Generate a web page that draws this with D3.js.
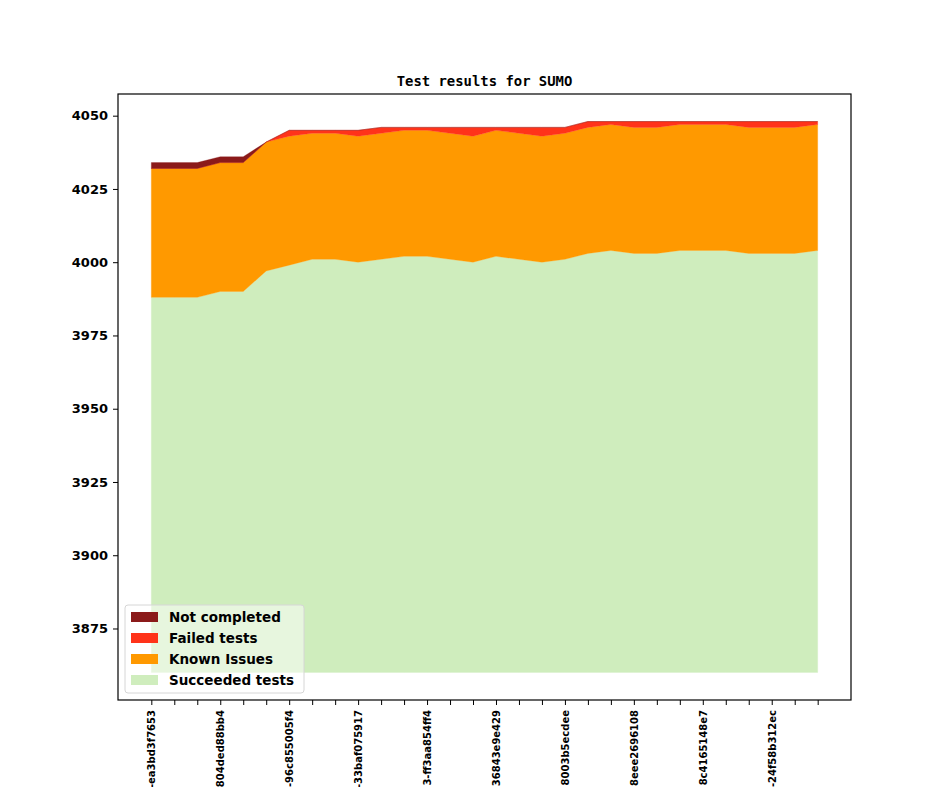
<!DOCTYPE html>
<html>
<head>
<meta charset="utf-8">
<script src="https://cdn.jsdelivr.net/npm/d3@7"></script>
<style>
  html, body { margin: 0; padding: 0; background: #fff; overflow: hidden; }
  svg { display: block; }
</style>
</head>
<body>
<svg id="chart" width="944" height="787"></svg>
<script>
// ---- data ----
const commitLabels = ["-ea3bd3f7653", "804ded88bb4", "-96c855005f4", "-33baf075917", "3-ff3aa854ff4",
                      "36843e9e429", "8003b5ecdee", "8eee2696108", "8c4165148e7", "-24f58b312ec"];
const labelEvery = 3;
const commitIndex = d3.range(30);
const yFloor = 3860;
const succeeded   = [3988,3988,3988,3990,3990,3997,3999,4001,4001,4000,4001,4002,4002,4001,4000,
                     4002,4001,4000,4001,4003,4004,4003,4003,4004,4004,4004,4003,4003,4003,4004];
const knownIssues = [44,44,44,44,44,44,44,43,43,43,43,43,43,43,43,
                     43,43,43,43,43,43,43,43,43,43,43,43,43,43,43];
const failedTests = [0,0,0,0,0,0,2,1,1,2,2,1,1,2,3,
                     1,2,3,2,2,1,2,2,1,1,1,2,2,2,1];
const notCompleted = [2,2,2,2,2,0,0,0,0,0,0,0,0,0,0,
                      0,0,0,0,0,0,0,0,0,0,0,0,0,0,0];
const seriesKeys  = ["succeeded", "known", "failed", "notCompleted"];
const seriesNames = ["Succeeded tests", "Known Issues", "Failed tests", "Not completed"];
const seriesColors = ["#cfedbd", "#ff9900", "#ff331a", "#8b1a1a"];
const yTicks = [3875, 3900, 3925, 3950, 3975, 4000, 4025, 4050];
const titleText = "Test results for SUMO";

// ---- layout ----
const svg = d3.select("#chart");
const L = 118, R = 851, T = 94, B = 700;

const rows = commitIndex.map(i => ({
  succeeded: succeeded[i] - yFloor,
  known: knownIssues[i],
  failed: failedTests[i],
  notCompleted: notCompleted[i]
}));
const stacked = d3.stack().keys(seriesKeys)(rows);

const totals = commitIndex.map(i => succeeded[i] + knownIssues[i] + failedTests[i] + notCompleted[i]);
const yMin = yFloor, yMax = d3.max(totals);
const yPad = (yMax - yMin) * 0.05;
const y = d3.scaleLinear().domain([yMin - yPad, yMax + yPad]).range([B, T]);
const n = commitIndex.length;
const xPad = (n - 1) * 0.05;
const x = d3.scaleLinear().domain([-xPad, n - 1 + xPad]).range([L, R]);

const area = d3.area()
  .x((d, i) => x(commitIndex[i]))
  .y0(d => y(d[0] + yFloor))
  .y1(d => y(d[1] + yFloor));

svg.append("g").selectAll("path")
  .data(stacked)
  .join("path")
  .attr("d", area)
  .attr("fill", (d, i) => seriesColors[i])
  .attr("stroke", (d, i) => seriesColors[i])
  .attr("stroke-width", 0.3);

// axes frame
svg.append("rect").attr("x", L).attr("y", T).attr("width", R - L).attr("height", B - T)
  .attr("fill", "none").attr("stroke", "#000").attr("stroke-width", 1.2);

// y axis
const yAxis = svg.append("g").attr("transform", `translate(${L},0)`)
  .call(d3.axisLeft(y).tickValues(yTicks).tickSize(5).tickPadding(5).tickFormat(d3.format("d")));
yAxis.select(".domain").remove();
yAxis.selectAll("text").attr("font-family", "DejaVu Sans").attr("font-weight", "bold")
  .attr("font-size", "13px").attr("fill", "#000");
yAxis.selectAll("line").attr("stroke", "#000").attr("stroke-width", 1);

// x axis
const xAxis = svg.append("g").attr("transform", `translate(0,${B})`)
  .call(d3.axisBottom(x).tickValues(commitIndex).tickSize(5).tickPadding(5)
    .tickFormat(i => (i % labelEvery === 0) ? commitLabels[i / labelEvery] : ""));
xAxis.select(".domain").remove();
xAxis.selectAll("line").attr("stroke", "#000").attr("stroke-width", 1);
xAxis.selectAll("text")
  .attr("font-family", "DejaVu Sans").attr("font-weight", "bold").attr("font-size", "10px")
  .attr("fill", "#000")
  .attr("text-anchor", "end")
  .attr("dy", "0.35em")
  .attr("transform", "translate(0,10) rotate(-90)")
  .attr("x", 0).attr("y", 0);

// title
svg.append("text").attr("x", (L + R) / 2).attr("y", 86).attr("text-anchor", "middle")
  .attr("font-family", "DejaVu Sans Mono").attr("font-weight", "bold").attr("font-size", "13.9px")
  .text(titleText);

// legend
const lg = svg.append("g").attr("transform", "translate(125,605)");
lg.append("rect").attr("x", 0).attr("y", 0).attr("width", 179).attr("height", 88)
  .attr("rx", 3).attr("fill", "#fff").attr("fill-opacity", 0.5)
  .attr("stroke", "#d6d6d6").attr("stroke-width", 1);
const order = [3, 2, 1, 0];
order.forEach((si, k) => {
  const g = lg.append("g").attr("transform", `translate(0,${12 + k * 21})`);
  g.append("rect").attr("x", 6).attr("y", -5).attr("width", 27).attr("height", 10)
    .attr("fill", seriesColors[si]);
  g.append("text").attr("x", 44).attr("y", 0).attr("dy", "0.36em")
    .attr("font-family", "DejaVu Sans").attr("font-weight", "bold").attr("font-size", "13.5px")
    .text(seriesNames[si]);
});
</script>
</body>
</html>
